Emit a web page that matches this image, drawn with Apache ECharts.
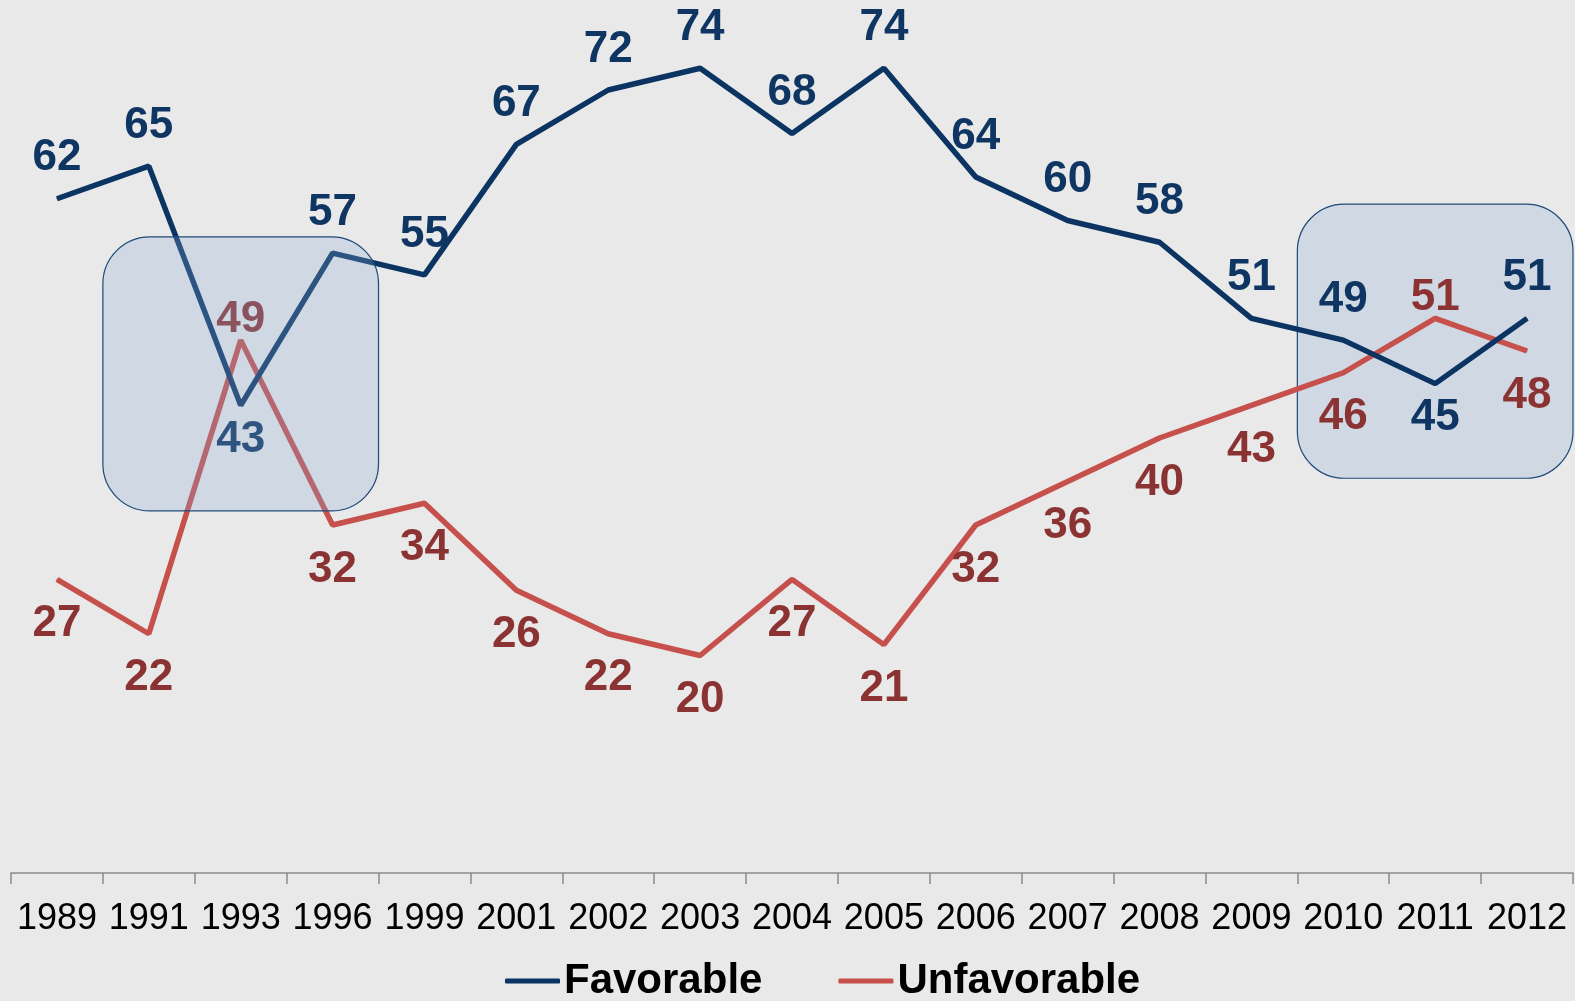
<!DOCTYPE html>
<html>
<head>
<meta charset="utf-8">
<script src="https://cdn.jsdelivr.net/npm/echarts@6/dist/echarts.min.js"></script>
<style>
html,body{margin:0;padding:0;background:#e9e9e9;}
#c{width:1575px;height:1001px;}
</style>
</head>
<body>
<div id="c"></div>
<script>
const years = ['1989','1991','1993','1996','1999','2001','2002','2003','2004','2005','2006','2007','2008','2009','2010','2011','2012'];
const favorable = [62,65,43,57,55,67,72,74,68,74,64,60,58,51,49,45,51];
const unfavorable = [27,22,49,32,34,26,22,20,27,21,32,36,40,43,46,51,48];
// labels placed on the opposite side of the line
const favorableBelow = ['1993','2011'];
const unfavorableAbove = ['1993','2011'];
// highlighted boxes: [first category, last category, low value, high value, on top]
const boxes = [
  ['1991','1996',33.3,58.5,true],
  ['2010','2012',36.3,61.5,false]
];

const NAVY = '#0b3462', NAVY_LABEL = '#0f3562';
const RED = '#c6504c', RED_LABEL = '#8b3333';
const FONT = '"Liberation Sans", Arial, sans-serif';

const chart = echarts.init(document.getElementById('c'));

function favData(){
  return favorable.map((v,i)=>{
    const below = favorableBelow.indexOf(years[i])>=0;
    return {value:v, label:{show:true, position: below?'bottom':'top', distance: below?12:18}};
  });
}
function unfData(){
  return unfavorable.map((v,i)=>{
    const above = unfavorableAbove.indexOf(years[i])>=0;
    return {value:v, label:{show:true, position: above?'top':'bottom', distance: above?-2:22}};
  });
}

chart.setOption({
  backgroundColor:'#e9e9e9',
  animation:false,
  grid:{left:11,right:2,top:3,bottom:128},
  xAxis:{
    type:'category', data:years, boundaryGap:true,
    axisLine:{lineStyle:{color:'#8a8a8a',width:1.5}},
    axisTick:{show:true,length:11,lineStyle:{color:'#8a8a8a',width:1.5}},
    axisLabel:{interval:0,margin:28,color:'#000',fontSize:36,fontFamily:FONT}
  },
  yAxis:{type:'value',min:0,max:80,show:false,splitLine:{show:false}},
  legend:{
    left:500, top:955, itemWidth:55, itemHeight:5, itemGap:76,
    icon:'roundRect',
    textStyle:{fontSize:42,fontWeight:'bold',color:'#000',fontFamily:FONT,padding:[0,0,0,-1]},
    data:['Favorable','Unfavorable']
  },
  series:[
    {name:'Favorable',type:'line',data:favData(),symbol:'circle',symbolSize:1,showSymbol:true,z:3,
     lineStyle:{color:NAVY,width:5.5},itemStyle:{color:NAVY},
     label:{show:true,fontSize:44,fontWeight:'bold',color:NAVY_LABEL,fontFamily:FONT},
     labelLayout:{hideOverlap:false}},
    {name:'Unfavorable',type:'line',data:unfData(),symbol:'circle',symbolSize:1,showSymbol:true,z:2,
     lineStyle:{color:RED,width:5.5},itemStyle:{color:RED},
     label:{show:true,fontSize:44,fontWeight:'bold',color:RED_LABEL,fontFamily:FONT},
     labelLayout:{hideOverlap:false}}
  ]
});

function drawBoxes(){
  const els = boxes.map(b=>{
    const i0 = years.indexOf(b[0]), i1 = years.indexOf(b[1]);
    const p0 = chart.convertToPixel({gridIndex:0},[i0,b[3]]);
    const p1 = chart.convertToPixel({gridIndex:0},[i1,b[2]]);
    const pn = chart.convertToPixel({gridIndex:0},[i0+1,b[3]]);
    const half = (pn[0]-p0[0])/2;
    const x = p0[0]-half, x2 = p1[0]+half;
    return {
      type:'rect', z: b[4]?100:0, zlevel:0,
      shape:{x:x,y:p0[1],width:x2-x,height:p1[1]-p0[1],r:47},
      style:{fill:'rgba(136,170,209,0.27)',stroke:'#1f4a7a',lineWidth:1.2}
    };
  });
  chart.setOption({graphic:{elements:els}});
}
drawBoxes();
</script>
</body>
</html>
